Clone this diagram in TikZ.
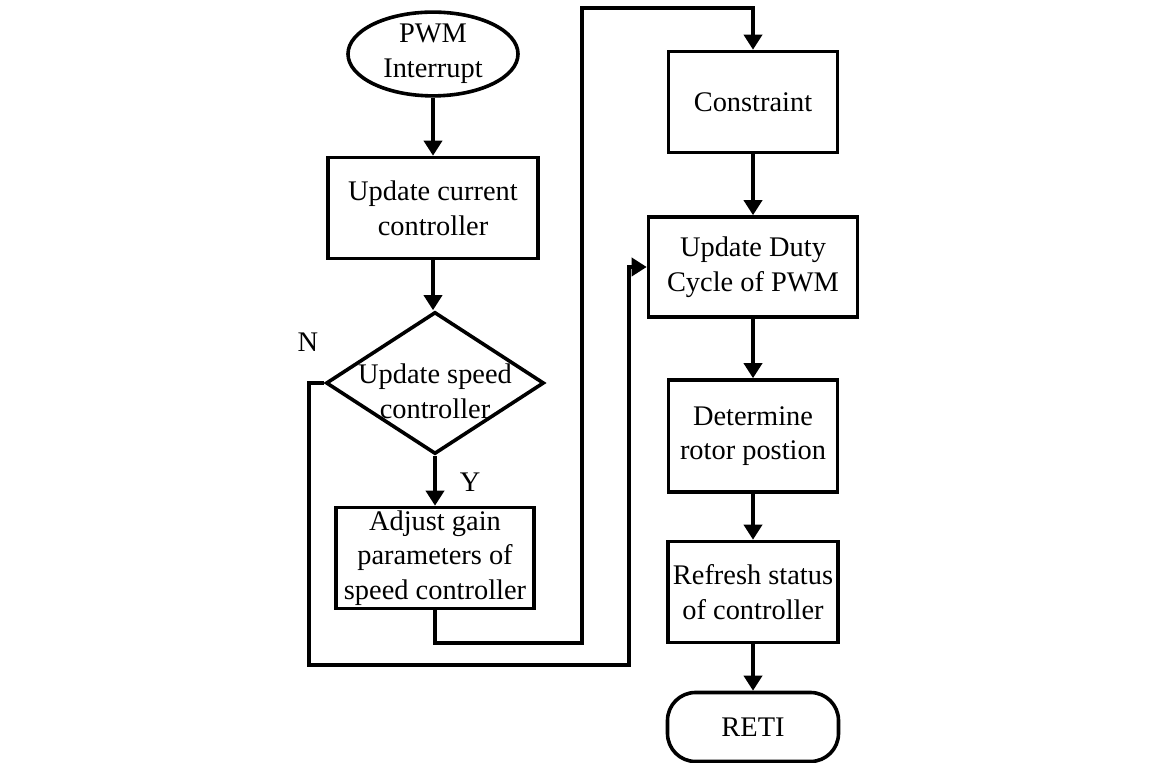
\documentclass[tikz,border=0pt]{standalone}
\usepackage{fontspec}
\setmainfont{Liberation Serif}
\usetikzlibrary{shapes.geometric,arrows.meta}

\begin{document}
\begin{tikzpicture}[x=0.5pt,y=-0.5pt,
  every node/.style={font=\fontsize{14.2}{17.3}\selectfont,align=center},
  procbox/.style={draw,line width=1.8pt,inner sep=1pt},
  flow/.style={line width=1.8pt,-{Triangle[length=7.5pt,width=9pt]}}]

\useasboundingbox (0,0) rectangle (1151,763) ;

% left column
\node[procbox,ellipse,minimum width=85pt,minimum height=39pt,inner sep=0pt] (pwm_int) at (433,54) {PWM\\Interrupt} ;
\node[procbox,minimum width=105pt,minimum height=50.5pt] (upd_cur) at (433,208) {Update current\\controller} ;
\node[procbox,diamond,minimum width=109pt,minimum height=71pt,inner sep=0pt,
      label={[yshift=-4pt]center:Update speed\\controller}] (upd_spd) at (435,383) {} ;
\node[procbox,minimum width=99pt,minimum height=50.5pt] (adj_gain) at (435,558) {Adjust gain\\parameters of\\speed controller} ;

% right column
\node[procbox,minimum width=84.5pt,minimum height=50.5pt] (constr) at (753,102) {Constraint} ;
\node[procbox,minimum width=104.5pt,minimum height=50pt] (upd_duty) at (753,267) {Update Duty\\Cycle of PWM} ;
\node[procbox,minimum width=84.5pt,minimum height=56pt] (rotor) at (753,436) {Determine\\rotor postion} ;
\node[procbox,minimum width=85pt,minimum height=50.5pt] (refresh) at (753,592) {Refresh status\\of controller} ;
\node[procbox,rounded corners=14pt,minimum width=85.5pt,minimum height=34.5pt] (reti) at (753,727) {RETI} ;

\node (lbl_n) at (308,342) {N} ;
\node (lbl_y) at (470,482) {Y} ;

\coordinate (jmp_a) at (582,643) ;
\coordinate (jmp_b) at (582,8) ;
\coordinate (loop_a) at (309,665) ;
\coordinate (loop_b) at (629,665) ;

\draw[flow] (pwm_int.south) -- (upd_cur.north) ;
\draw[flow] (upd_cur.south) -- (upd_cur.south |- upd_spd.north) ;
\draw[flow] (upd_spd) -- (adj_gain) ;
\draw[flow] (adj_gain.south) |- (jmp_a) -- (jmp_b) -| (constr.north) ;
\draw[flow] (upd_spd.west) -| (loop_a) -- (loop_b) |- (upd_duty.west) ;

\draw[flow] (constr) -- (upd_duty) ;
\draw[flow] (upd_duty) -- (rotor) ;
\draw[flow] (rotor) -- (refresh) ;
\draw[flow] (refresh) -- (reti) ;

\end{tikzpicture}
\end{document}
